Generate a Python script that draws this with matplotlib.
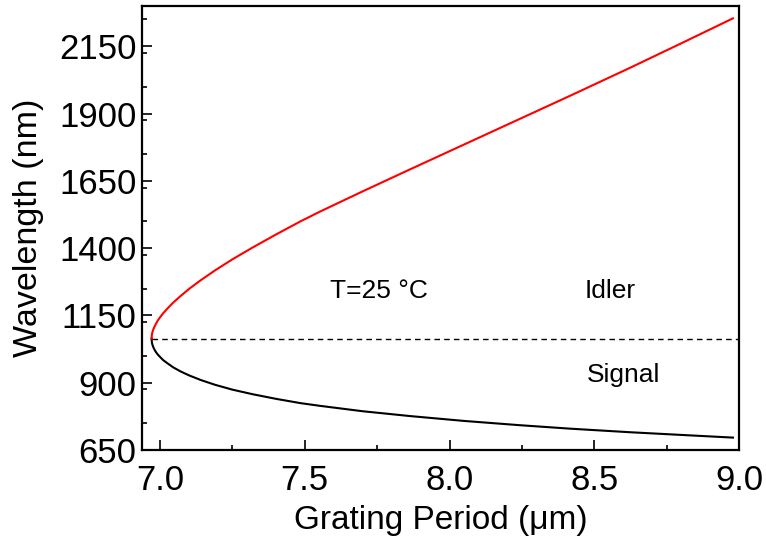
import matplotlib
matplotlib.use('Agg')
import matplotlib.pyplot as plt
from matplotlib.ticker import MultipleLocator, FormatStrFormatter

plt.rcParams['font.family'] = ['Liberation Sans', 'DejaVu Sans']

# tuning curve: grating period (um) and wavelength (nm)
period = [6.971, 6.972, 6.974, 6.977, 6.981, 6.986, 6.993, 7.001, 7.011, 7.026,
          7.046, 7.071, 7.101, 7.141, 7.191, 7.251, 7.321, 7.401, 7.486, 7.553,
          7.70, 7.864, 8.05, 8.244, 8.42, 8.623, 8.80, 8.979]
idler_wl = [1064, 1078, 1088, 1098, 1108, 1119, 1132, 1144, 1158, 1176,
            1198, 1222, 1249, 1281, 1318, 1359, 1403, 1451, 1500, 1536,
            1611, 1693, 1785, 1881, 1968, 2070, 2161, 2254]
signal_wl = [1064, 1050, 1041, 1032, 1023, 1014, 1004, 995, 984, 972,
             957, 942, 927, 910, 892, 874, 857, 840, 824, 814,
             794, 776, 758, 742, 729, 716, 706, 696]

degenerate_wl = 1064

fig = plt.figure(figsize=(7.66, 5.43), dpi=100)
ax = fig.add_axes([0.1854, 0.1713, 0.7794, 0.8177])

ax.plot(period, signal_wl, color='black', lw=1.5)
ax.plot(period, idler_wl, color='red', lw=1.5)
ax.hlines(degenerate_wl, period[0], 9.0, colors='black', linestyles=(0, (4, 3)), lw=1)

ax.text(7.587, 1242, 'T=25 \u00b0C', fontsize=19, va='center')
ax.text(8.468, 1242, 'Idler', fontsize=19, va='center')
ax.text(8.475, 929, 'Signal', fontsize=19, va='center')

ax.set_xlim(6.938, 9.0)
ax.set_ylim(650, 2300)
ax.xaxis.set_major_locator(MultipleLocator(0.5))
ax.xaxis.set_minor_locator(MultipleLocator(0.25))
ax.set_yticks([650, 900, 1150, 1400, 1650, 1900, 2150])
ax.yaxis.set_minor_locator(MultipleLocator(125))
ax.xaxis.set_major_formatter(FormatStrFormatter('%.1f'))

ax.tick_params(which='both', direction='in', top=False, right=False, labelsize=25)
ax.tick_params(which='major', length=7, width=1.2)
ax.tick_params(which='minor', length=3.5, width=1.2)
ax.tick_params(axis='x', pad=10)
ax.tick_params(axis='y', pad=4)
for s in ax.spines.values():
    s.set_linewidth(1.6)

ax.set_xlabel('Grating Period (\u03bcm)', fontsize=24, labelpad=6)
ax.set_ylabel('Wavelength (nm)', fontsize=24.5, labelpad=11)

fig.savefig('out.png', dpi=100)
